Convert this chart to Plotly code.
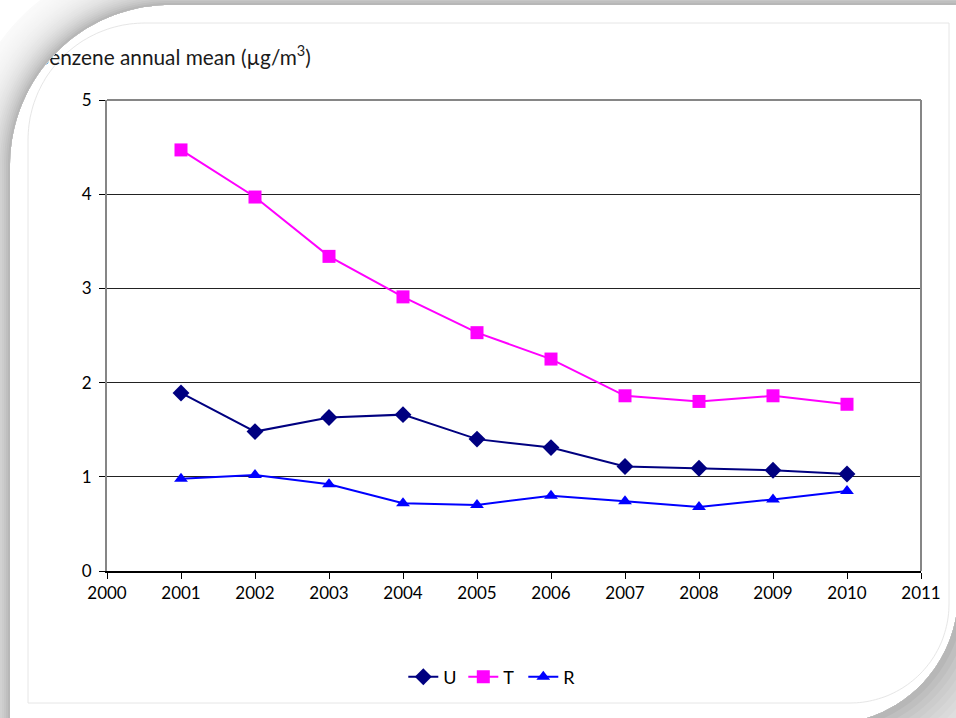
import math
import plotly.graph_objects as go

# Annual mean benzene concentration by station type
years = [2001, 2002, 2003, 2004, 2005, 2006, 2007, 2008, 2009, 2010]
u_values = [1.89, 1.48, 1.63, 1.66, 1.40, 1.31, 1.11, 1.09, 1.07, 1.03]
t_values = [4.47, 3.97, 3.34, 2.91, 2.53, 2.25, 1.86, 1.80, 1.86, 1.77]
r_values = [0.98, 1.02, 0.92, 0.72, 0.70, 0.80, 0.74, 0.68, 0.76, 0.85]

series_names = ["U", "T", "R"]
x_ticks = list(range(2000, 2012))
y_ticks = [0, 1, 2, 3, 4, 5]
title_text = "Benzene annual mean (µg/m<sup>3</sup>)"

W, H = 956, 718
FONT = "Lato"

# plot area in page pixels
PL, PR, PT, PB = 107, 921, 100, 571


def px_x(v):
    return v / W


def px_y(v):
    return 1 - v / H


def arc(cx, cy, r, a0, a1, n=48):
    pts = []
    for i in range(n + 1):
        a = math.radians(a0 + (a1 - a0) * i / n)
        pts.append((cx + r * math.cos(a), cy + r * math.sin(a)))
    return pts


def card_outline(d_tl, d_br):
    """Rounded card outline (page pixels, y down), grown outward.

    d_tl grows the top/left sides, d_br grows the bottom/right sides.
    """
    left, top = 10 - d_tl, 5 - d_tl
    right, bottom = 958 + d_br, 724 + d_br
    rt, rb = 160 + d_tl, 130 + d_br
    ctl = (170, 165)
    cbr = (828, 594)
    pts = []
    pts += arc(ctl[0], ctl[1], rt, 180, 270)          # top-left corner
    pts += [(right, top)]                              # top-right
    pts += arc(cbr[0], cbr[1], rb, 0, 90)             # bottom-right corner
    pts += [(left, bottom)]                            # bottom-left
    return pts


def path_from(pts):
    s = "M %.1f,%.1f " % pts[0]
    s += " ".join("L %.1f,%.1f" % p for p in pts[1:])
    return s + " Z"


fig = go.Figure()

marker_styles = [
    dict(symbol="diamond", size=13, color="#000080"),
    dict(symbol="square", size=13, color="#FF00FF"),
    dict(symbol="triangle-up", size=12, color="#0000FF"),
]
line_colors = ["#000080", "#FF00FF", "#0000FF"]

for name, vals, mk, lc in zip(series_names, [u_values, t_values, r_values],
                               marker_styles, line_colors):
    fig.add_trace(go.Scatter(
        x=years, y=vals, name=name, mode="lines+markers",
        line=dict(color=lc, width=2),
        marker=mk,
        cliponaxis=False,
    ))

# Chart title drawn on a full-page overlay so the card edge can clip it
fig.add_trace(go.Scatter(
    x=[36], y=[60], xaxis="x2", yaxis="y2", mode="text",
    text=[title_text], textposition="middle right",
    textfont=dict(family=FONT, size=20.8, color="#1a1a1a"),
    showlegend=False, hoverinfo="skip",
))

shapes = []

# faint inner frame of the card
inner = []
inner += arc(145, 140, 117, 180, 270)
inner += [(949, 23)]
inner += arc(850, 604, 99, 0, 90)
inner += [(28, 703)]
shapes.append(dict(type="path", xref="x2", yref="y2", path=path_from(inner),
                   line=dict(color="#e6e6e6", width=1), layer="below"))

# soft shadow around the card: opaque rings, lightest outermost first
card_pts = card_outline(0, 0)
for d in range(50, 0, -2):
    g = int(round(255 - 80 * math.exp(-d / 18.0)))
    outer_pts = card_outline(d, 3 * d)
    p = path_from(outer_pts) + " " + path_from(card_pts[::-1])
    shapes.append(dict(type="path", xref="x2", yref="y2", path=p,
                       fillcolor="rgb(%d,%d,%d)" % (g, g, g),
                       line=dict(width=0), layer="above", fillrule="evenodd"))

# plot-area border (top and right)
shapes.append(dict(type="line", xref="paper", yref="paper",
                   x0=px_x(PL), x1=px_x(PR), y0=px_y(PT), y1=px_y(PT),
                   line=dict(color="#868686", width=2), layer="above"))
shapes.append(dict(type="line", xref="paper", yref="paper",
                   x0=px_x(PR), x1=px_x(PR), y0=px_y(PT), y1=px_y(PB),
                   line=dict(color="#868686", width=2), layer="above"))

fig.update_layout(
    width=W, height=H, autosize=False,
    margin=dict(l=0, r=0, t=0, b=0, pad=0, autoexpand=False),
    paper_bgcolor="white",
    plot_bgcolor="rgba(0,0,0,0)",
    font=dict(family=FONT, size=17, color="#000000"),
    showlegend=True,
    legend=dict(orientation="h", x=0.516, xanchor="center",
                y=px_y(677), yanchor="middle",
                font=dict(family=FONT, size=18, color="#000000"),
                itemwidth=30, tracegroupgap=0, bgcolor="rgba(0,0,0,0)",
                entrywidth=15, entrywidthmode="pixels"),
    xaxis=dict(
        domain=[px_x(PL), px_x(PR)], range=[2000, 2011], automargin=False,
        tickmode="array", tickvals=x_ticks, ticktext=[str(v) for v in x_ticks],
        showgrid=False, zeroline=False,
        showline=True, linecolor="#000000", linewidth=1.5,
        ticks="outside", ticklen=6, tickcolor="#000000", tickwidth=1,
        tickfont=dict(family=FONT, size=17, color="#000000"),
        fixedrange=True,
    ),
    yaxis=dict(
        domain=[px_y(PB), px_y(PT)], range=[0, 5], automargin=False,
        tickmode="array", tickvals=y_ticks, ticktext=[str(v) for v in y_ticks],
        showgrid=True, gridcolor="#222222", gridwidth=1, zeroline=False,
        showline=True, linecolor="#868686", linewidth=2,
        ticks="outside", ticklen=6, tickcolor="#000000", tickwidth=1,
        tickfont=dict(family=FONT, size=17, color="#000000"),
        ticklabelstandoff=4,
        fixedrange=True,
    ),
    xaxis2=dict(domain=[0, 1], range=[0, W], visible=False, fixedrange=True,
                automargin=False),
    yaxis2=dict(domain=[0, 1], range=[H, 0], visible=False, fixedrange=True,
                automargin=False),
    shapes=shapes,
)

fig.write_html("out.html")
